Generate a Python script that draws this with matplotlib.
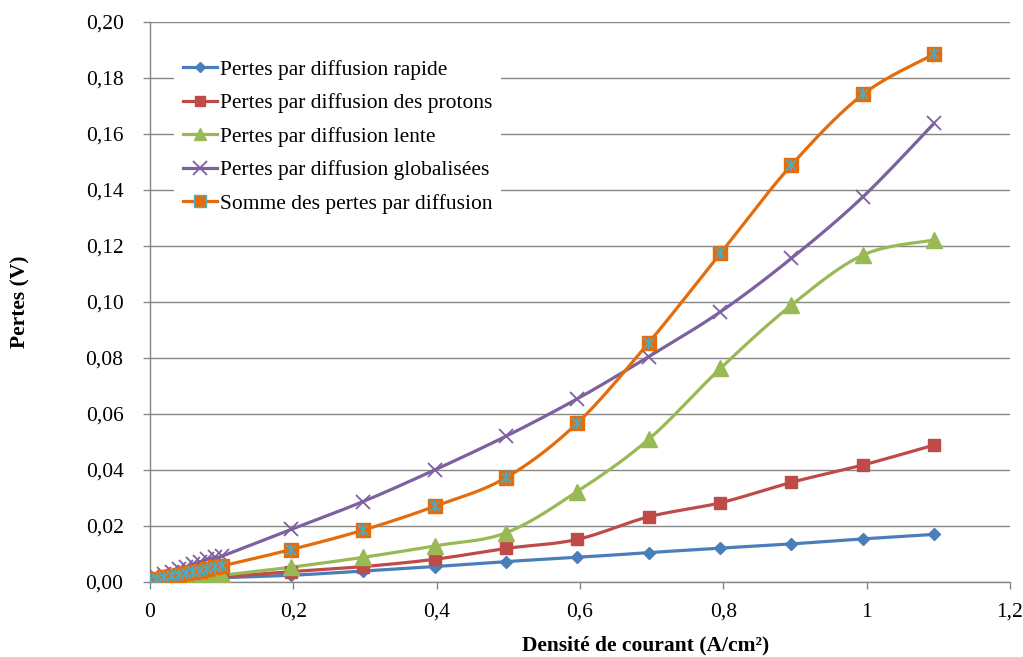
import numpy as np
import matplotlib
matplotlib.use("Agg")
import matplotlib.pyplot as plt
from matplotlib.ticker import FixedLocator, FuncFormatter

# Current density (A/cm²)
x_low = [0.0, 0.01, 0.02, 0.03, 0.04, 0.05, 0.06, 0.07, 0.08, 0.09, 0.1]
x_high = [0.197, 0.297, 0.397, 0.497, 0.596, 0.696, 0.796, 0.895, 0.995, 1.094]
current = x_low + x_high

# Diffusion losses (V)
rapide = [0.0002, 0.0003, 0.0005, 0.0006, 0.0007, 0.0008, 0.0010, 0.0011, 0.0012, 0.0014, 0.0015,
          0.0024, 0.0039, 0.0055, 0.0073, 0.0088, 0.0105, 0.0121, 0.0136, 0.0154, 0.0170]
protons = [0.0002, 0.0004, 0.0005, 0.0007, 0.0008, 0.0010, 0.0012, 0.0013, 0.0015, 0.0016, 0.0018,
           0.0037, 0.0055, 0.0081, 0.0120, 0.0152, 0.0233, 0.0283, 0.0356, 0.0418, 0.0489]
lente = [0.0003, 0.0005, 0.0007, 0.0009, 0.0011, 0.0013, 0.0015, 0.0017, 0.0019, 0.0022, 0.0024,
         0.0053, 0.0088, 0.0129, 0.0176, 0.0323, 0.0510, 0.0763, 0.0989, 0.1168, 0.1221]
globalisees = [0.0009, 0.0018, 0.0027, 0.0036, 0.0045, 0.0054, 0.0063, 0.0072, 0.0081, 0.0088, 0.0092,
               0.0188, 0.0287, 0.0400, 0.0521, 0.0654, 0.0805, 0.0965, 0.1156, 0.1376, 0.1638]
somme = [0.0007, 0.0012, 0.0017, 0.0022, 0.0026, 0.0031, 0.0037, 0.0041, 0.0046, 0.0052, 0.0057,
         0.0116, 0.0185, 0.0270, 0.0373, 0.0567, 0.0855, 0.1174, 0.1489, 0.1742, 0.1885]

labels = ["Pertes par diffusion rapide",
          "Pertes par diffusion des protons",
          "Pertes par diffusion lente",
          "Pertes par diffusion globalisées",
          "Somme des pertes par diffusion"]

x_ticks = [0, 0.2, 0.4, 0.6, 0.8, 1.0, 1.2]
y_ticks = [0.00, 0.02, 0.04, 0.06, 0.08, 0.10, 0.12, 0.14, 0.16, 0.18, 0.20]

plt.rcParams['font.family'] = ['Liberation Serif', 'DejaVu Serif']

GRID = '#868686'
FS = 15.5


def smooth(xs, ys, n=20):
    """Cubic Bezier smoothing through the points (Catmull-Rom style)."""
    p = np.column_stack([xs, ys]).astype(float)
    ext = np.vstack([p[0], p, p[-1]])
    out = [p[:1]]
    t = np.linspace(0, 1, n)[1:, None]
    for i in range(len(p) - 1):
        p0, p1, p2, p3 = ext[i], ext[i + 1], ext[i + 2], ext[i + 3]
        c1 = p1 + (p2 - p0) / 6.0
        c2 = p2 - (p3 - p1) / 6.0
        seg = ((1 - t) ** 3) * p1 + 3 * ((1 - t) ** 2) * t * c1 + 3 * (1 - t) * t ** 2 * c2 + t ** 3 * p2
        out.append(seg)
    s = np.vstack(out)
    return s[:, 0], s[:, 1]


fig = plt.figure(figsize=(10.23, 6.57), dpi=100)
ax = fig.add_axes([150 / 1023, 1 - 582 / 657, 860 / 1023, 560 / 657])

styles = [
    dict(color='#4A7EBB', marker='D', ms=6.3),
    dict(color='#BE4B48', marker='s', ms=9),
    dict(color='#98B954', marker='^', ms=11),
    dict(color='#7D60A0', marker='x', ms=9.5),
    dict(color='#E46C0A', marker='s', ms=10.5),
]
series = [rapide, protons, lente, globalisees, somme]

handles = []
for ys, st, lab in zip(series, styles, labels):
    sx, sy = smooth(current, ys)
    ax.plot(sx, sy, color=st['color'], lw=2.3, zorder=3, solid_capstyle='round')
    if st['marker'] == 'x':
        ax.plot(current, ys, ls='none', marker='x', ms=st['ms'], mew=1.3,
                color=st['color'], zorder=4)
        h, = ax.plot([], [], color=st['color'], lw=2.3, marker='x', ms=st['ms'], mew=1.3)
    elif lab.startswith("Somme"):
        ax.plot(current, ys, ls='none', marker='s', ms=st['ms'], mfc=st['color'],
                mec=st['color'], zorder=4)
        ax.plot(current, ys, ls='none', marker='x', ms=st['ms'] * 0.65, mew=1.3,
                color='#4BACC6', zorder=5)
        ax.plot(current, ys, ls='none', marker='|', ms=st['ms'] * 0.85, mew=1.3,
                color='#4BACC6', zorder=5)
        h, = ax.plot([], [], color=st['color'], lw=2.3, marker='s', ms=st['ms'] * 0.8,
                     mfc=st['color'], mec='#4BACC6')
    else:
        ax.plot(current, ys, ls='none', marker=st['marker'], ms=st['ms'],
                color=st['color'], zorder=4)
        h, = ax.plot([], [], color=st['color'], lw=2.3, marker=st['marker'], ms=st['ms'] * 0.8)
    handles.append(h)

ax.set_xlim(0, 1.2)
ax.set_ylim(0, 0.20)
ax.xaxis.set_major_locator(FixedLocator(x_ticks))
ax.yaxis.set_major_locator(FixedLocator(y_ticks))


def fmt_x(v, pos):
    s = ('%.1f' % v).rstrip('0').rstrip('.')
    return s.replace('.', ',')


ax.xaxis.set_major_formatter(FuncFormatter(fmt_x))
ax.yaxis.set_major_formatter(FuncFormatter(lambda v, p: ('%.2f' % v).replace('.', ',')))

ax.grid(axis='y', color=GRID, lw=1.0, zorder=0)
ax.set_axisbelow(True)
for side in ('top', 'right'):
    ax.spines[side].set_visible(False)
for side in ('left', 'bottom'):
    ax.spines[side].set_color(GRID)
    ax.spines[side].set_linewidth(1.0)
ax.tick_params(axis='both', direction='out', length=5, width=1.0, color=GRID,
               labelsize=FS, labelcolor='#000000')
ax.tick_params(axis='y', pad=14)
ax.tick_params(axis='x', pad=10)

fig.text(20 / 1023, 1 - 302 / 657, "Pertes (V)", rotation=90, ha='center', va='center',
         fontsize=FS, fontweight='bold')
fig.text(646 / 1023, 1 - 645 / 657, "Densité de courant (A/cm²)", ha='center', va='center',
         fontsize=FS, fontweight='bold')

leg = ax.legend(handles, labels, loc='upper left', bbox_to_anchor=(0.0155, 0.967),
                frameon=True, fontsize=FS, handlelength=1.6, handletextpad=0.15,
                labelspacing=0.62, borderpad=0.4)
leg.get_frame().set_facecolor('white')
leg.get_frame().set_edgecolor('none')
leg.get_frame().set_alpha(1.0)

fig.savefig("out.png", dpi=100, facecolor='white')
